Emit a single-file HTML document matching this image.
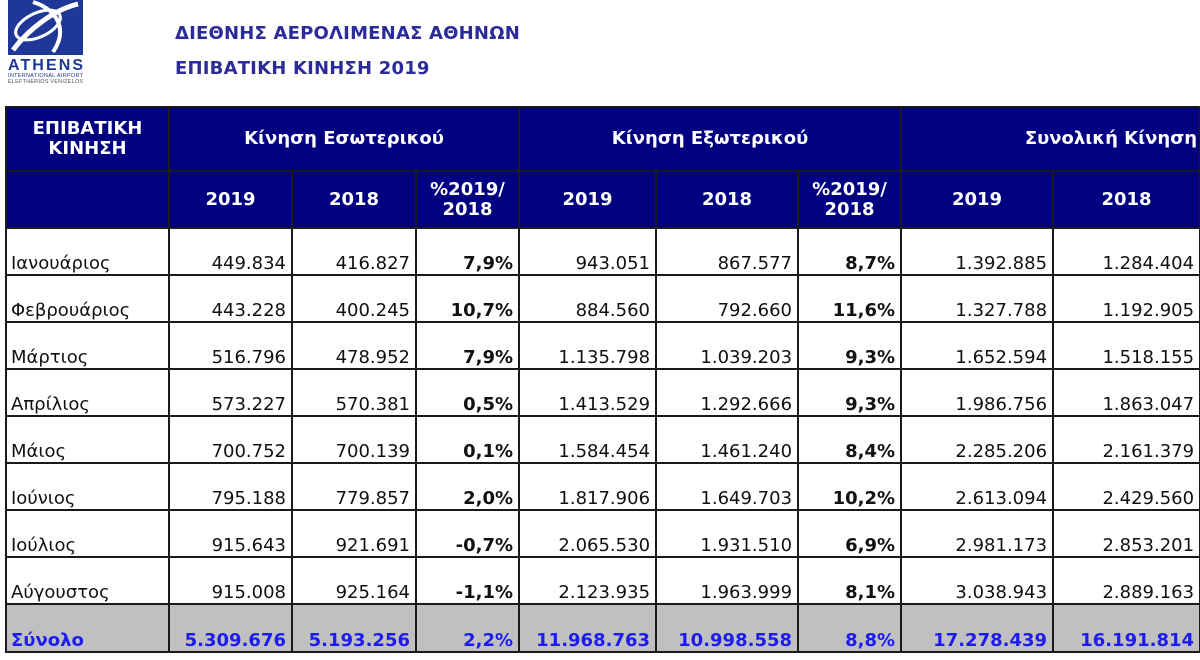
<!DOCTYPE html>
<html><head><meta charset="utf-8">
<style>
body{margin:0;width:1200px;height:660px;background:#fff;overflow:hidden;position:relative;font-family:"DejaVu Sans","Liberation Sans",sans-serif;}
.t1,.t2{position:absolute;left:175px;color:#2b2b9a;font-weight:bold;font-size:18px;letter-spacing:0.2px}
.t1{top:23px}.t2{top:58px}
table{position:absolute;left:5px;top:106px;border-collapse:collapse;table-layout:fixed;width:1194px}
td{border:2px solid #1a1a1a;font-size:18px;padding:0 5px 0 4px;vertical-align:bottom;text-align:right;white-space:nowrap;overflow:hidden;height:45px;color:#111;line-height:20px}
tr.h td{background:#000080;color:#fff;font-weight:bold;text-align:center;vertical-align:middle;font-size:18px;padding:0}
tr.h1 td{height:62px}
tr.h2 td{height:55px}
td.m{text-align:left;padding-left:4px}
td.b{font-weight:bold}
tr.tot td{background:#c0c0c0;color:#1c1cf0;font-weight:bold;height:46px}
</style></head><body>
<svg style="position:absolute;left:8px;top:0" width="80" height="100" viewBox="0 0 80 100">
<rect x="0" y="0" width="75" height="55" fill="#1f3796"/>
<path d="M5 50 C20 30,45 10,70 4" stroke="#fff" stroke-width="5" fill="none"/>
<path d="M25 2 C50 10,60 30,45 52" stroke="#fff" stroke-width="4" fill="none"/>
<ellipse cx="30" cy="25" rx="24" ry="12" stroke="#fff" stroke-width="3" fill="none" transform="rotate(-25 30 25)"/>
<text x="0" y="70" font-family="Liberation Sans" font-weight="bold" font-size="16" fill="#1f3796" textLength="75">ATHENS</text>
<text x="0" y="77" font-family="Liberation Sans" font-size="5.5" fill="#1f3796" textLength="75">INTERNATIONAL AIRPORT</text>
<text x="0" y="83" font-family="Liberation Sans" font-size="5.5" fill="#555" textLength="75">ELEFTHERIOS VENIZELOS</text>
</svg>
<div class="t1">ΔΙΕΘΝΗΣ ΑΕΡΟΛΙΜΕΝΑΣ ΑΘΗΝΩΝ</div>
<div class="t2">ΕΠΙΒΑΤΙΚΗ ΚΙΝΗΣΗ 2019</div>
<table>
<colgroup><col style="width:163px"><col style="width:123px"><col style="width:124px"><col style="width:103px"><col style="width:137px"><col style="width:142px"><col style="width:103px"><col style="width:152px"><col style="width:147px"></colgroup>
<tr class="h h1"><td>ΕΠΙΒΑΤΙΚΗ<br>ΚΙΝΗΣΗ</td><td colspan="3">Κίνηση Εσωτερικού</td><td colspan="3">Κίνηση Εξωτερικού</td><td colspan="2" style="text-align:right;padding-right:2px">Συνολική Κίνηση</td></tr>
<tr class="h h2"><td></td><td>2019</td><td>2018</td><td>%2019/<br>2018</td><td>2019</td><td>2018</td><td>%2019/<br>2018</td><td>2019</td><td>2018</td></tr>
<tr><td class="m">Ιανουάριος</td><td>449.834</td><td>416.827</td><td class="b">7,9%</td><td>943.051</td><td>867.577</td><td class="b">8,7%</td><td>1.392.885</td><td>1.284.404</td></tr>
<tr><td class="m">Φεβρουάριος</td><td>443.228</td><td>400.245</td><td class="b">10,7%</td><td>884.560</td><td>792.660</td><td class="b">11,6%</td><td>1.327.788</td><td>1.192.905</td></tr>
<tr><td class="m">Μάρτιος</td><td>516.796</td><td>478.952</td><td class="b">7,9%</td><td>1.135.798</td><td>1.039.203</td><td class="b">9,3%</td><td>1.652.594</td><td>1.518.155</td></tr>
<tr><td class="m">Απρίλιος</td><td>573.227</td><td>570.381</td><td class="b">0,5%</td><td>1.413.529</td><td>1.292.666</td><td class="b">9,3%</td><td>1.986.756</td><td>1.863.047</td></tr>
<tr><td class="m">Μάιος</td><td>700.752</td><td>700.139</td><td class="b">0,1%</td><td>1.584.454</td><td>1.461.240</td><td class="b">8,4%</td><td>2.285.206</td><td>2.161.379</td></tr>
<tr><td class="m">Ιούνιος</td><td>795.188</td><td>779.857</td><td class="b">2,0%</td><td>1.817.906</td><td>1.649.703</td><td class="b">10,2%</td><td>2.613.094</td><td>2.429.560</td></tr>
<tr><td class="m">Ιούλιος</td><td>915.643</td><td>921.691</td><td class="b">-0,7%</td><td>2.065.530</td><td>1.931.510</td><td class="b">6,9%</td><td>2.981.173</td><td>2.853.201</td></tr>
<tr><td class="m">Αύγουστος</td><td>915.008</td><td>925.164</td><td class="b">-1,1%</td><td>2.123.935</td><td>1.963.999</td><td class="b">8,1%</td><td>3.038.943</td><td>2.889.163</td></tr>
<tr class="tot"><td class="m">Σύνολο</td><td>5.309.676</td><td>5.193.256</td><td>2,2%</td><td>11.968.763</td><td>10.998.558</td><td>8,8%</td><td>17.278.439</td><td>16.191.814</td></tr>
</table>
</body></html>
